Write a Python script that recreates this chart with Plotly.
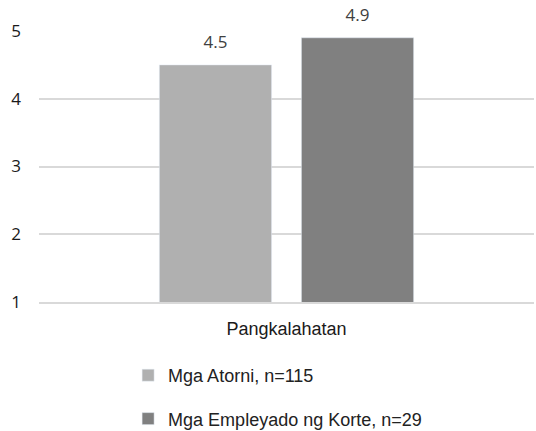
import plotly.graph_objects as go

categories = ["Pangkalahatan"]
series_names = ["Mga Atorni, n=115", "Mga Empleyado ng Korte, n=29"]
series_values = [[4.5], [4.9]]
colors = ["#b0b0b0", "#808080"]
y_ticks = [1, 2, 3, 4, 5]

fig = go.Figure()
for i, (name, vals) in enumerate(zip(series_names, series_values)):
    fig.add_trace(go.Bar(
        x=categories, y=vals, name=name, marker_color=colors[i],
        cliponaxis=False, legendgroup=f"g{i}", hoverinfo="name+y",
    ))
# value labels, grouped the same way as the bars
for i, vals in enumerate(series_values):
    fig.add_trace(go.Scatter(
        x=categories, y=vals, mode="markers+text",
        text=[f"{v:.1f}" for v in vals], textposition="top center",
        textfont=dict(family="Open Sans", size=17, color="#404040"),
        marker=dict(size=18, opacity=0), showlegend=False,
        hoverinfo="skip", cliponaxis=False,
    ))

fig.update_layout(
    width=536, height=431,
    margin=dict(l=39, r=2, t=31, b=129, autoexpand=False),
    plot_bgcolor="white", paper_bgcolor="white",
    barmode="group", bargap=0.426, bargroupgap=0.21,
    scattermode="group", scattergap=0.426,
    showlegend=True,
    legend=dict(orientation="v",
                x=0.18, y=-0.203, xanchor="left", yanchor="top",
                tracegroupgap=17,
                font=dict(family="Liberation Sans", size=18, color="#222222")),
    yaxis=dict(range=[1, 5], tickvals=y_ticks, showgrid=True,
               gridcolor="#d9d9d9", gridwidth=1.5, zeroline=False,
               ticklabelstandoff=17,
               tickfont=dict(family="Open Sans", size=17, color="#1a1a1a")),
    xaxis=dict(showline=True, linecolor="#d9d9d9", linewidth=1.5,
               ticklabelstandoff=10,
               tickfont=dict(family="Liberation Sans", size=18, color="#1a1a1a")),
)

fig.write_html("out.html", config={"displayModeBar": False},
               post_script="document.body.style.margin='0';")
